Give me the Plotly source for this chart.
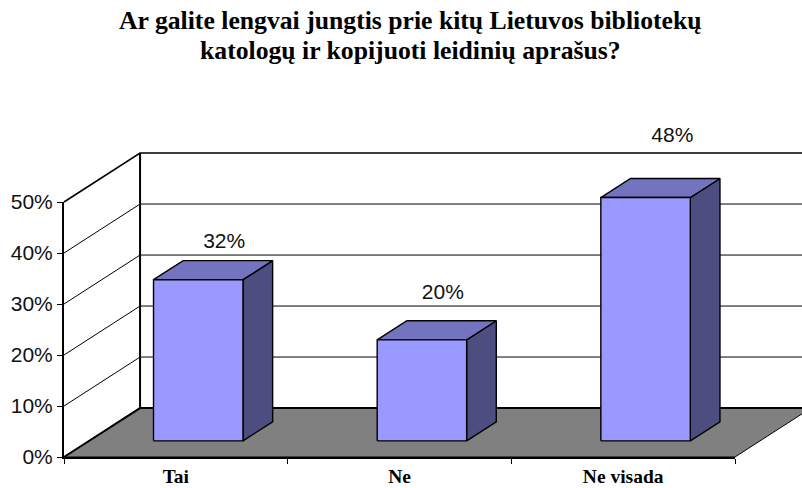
import plotly.graph_objects as go

categories = ["Tai", "Ne", "Ne visada"]
bar_heights = [31.6, 19.8, 47.7]
value_labels = ["32%", "20%", "48%"]
y_ticks = [0, 10, 20, 30, 40, 50]
title_lines = ["Ar galite lengvai jungtis prie kitų Lietuvos bibliotekų",
               "katologų ir kopijuoti leidinių aprašus?"]

W, H = 802, 488
# front plane of the chart in pixels
LEFT, RIGHT, TOP, BOTTOM = 64, 735, 202, 457

# the fake 3D depth, in axis units
DEPTH_X = 0.34
DEPTH_Y = 9.6
BAR_LEFT = 0.288
BAR_WIDTH = 0.4
BAR_NEAR = 0.33
BAR_FAR = 0.72
LABEL_X = [0.716, 1.694, 2.72]
LABEL_Y = [41.95, 31.95, 62.7]

n = len(categories)
ymax = y_ticks[-1]
px_x = (RIGHT - LEFT) / n
px_y = (BOTTOM - TOP) / ymax

fig = go.Figure()


def poly(xs, ys, fill=None, width=1.0, color="black"):
    fig.add_trace(go.Scatter(
        x=xs, y=ys, mode="lines", showlegend=False, hoverinfo="skip",
        line=dict(color=color, width=width),
        fill="toself" if fill else "none", fillcolor=fill,
    ))


# floor
poly([0, n, n + DEPTH_X, DEPTH_X, 0], [0, 0, DEPTH_Y, DEPTH_Y, 0], fill="#808080", width=1)
poly([0, DEPTH_X, n + DEPTH_X], [0, DEPTH_Y, DEPTH_Y], width=2)

# walls and gridlines
for t in y_ticks[1:]:
    w = 1.6 if t == ymax else 1
    poly([0, DEPTH_X, n + DEPTH_X], [t, t + DEPTH_Y, t + DEPTH_Y], width=w)
poly([DEPTH_X, DEPTH_X], [DEPTH_Y, ymax + DEPTH_Y], width=2)

# bars
for i, h in enumerate(bar_heights):
    x0 = i + BAR_LEFT + BAR_NEAR * DEPTH_X
    x1 = x0 + BAR_WIDTH
    y0 = BAR_NEAR * DEPTH_Y
    y1 = y0 + h
    dx = (BAR_FAR - BAR_NEAR) * DEPTH_X
    dy = (BAR_FAR - BAR_NEAR) * DEPTH_Y
    poly([x1, x1 + dx, x1 + dx, x1, x1], [y0, y0 + dy, y1 + dy, y1, y0], fill="#4D4D80", width=1.4)
    poly([x0, x0 + dx, x1 + dx, x1, x0], [y1, y1 + dy, y1 + dy, y1, y1], fill="#7373BF", width=1.4)
    poly([x0, x1, x1, x0, x0], [y0, y0, y1, y1, y0], fill="#9999FF", width=1.4)

fig.add_trace(go.Scatter(
    x=LABEL_X, y=LABEL_Y, text=value_labels, mode="text",
    showlegend=False, hoverinfo="skip",
    textfont=dict(family="Liberation Sans", size=21, color="#111111"),
))

# empty trace so the labelled axes get drawn
fig.add_trace(go.Scatter(x=[None], y=[None], xaxis="x2", yaxis="y2", showlegend=False, hoverinfo="skip"))

for line, ypx in zip(title_lines, [20, 50]):
    fig.add_annotation(
        text="<b>%s</b>" % line, x=(410 - LEFT) / px_x, y=(BOTTOM - ypx) / px_y, xref="x", yref="y",
        showarrow=False, xanchor="center", yanchor="middle",
        font=dict(family="Liberation Serif", size=25.7, color="black"),
    )

fig.update_layout(
    width=W, height=H,
    margin=dict(l=0, r=0, t=0, b=0),
    paper_bgcolor="white", plot_bgcolor="rgba(0,0,0,0)",
    showlegend=False,
    # hidden axes span the whole window, same scale as the labelled ones
    xaxis=dict(range=[-LEFT / px_x, (W - LEFT) / px_x], domain=[0, 1], visible=False),
    yaxis=dict(range=[-(H - BOTTOM) / px_y, BOTTOM / px_y], domain=[0, 1], visible=False),
    xaxis2=dict(
        domain=[LEFT / W, RIGHT / W], anchor="y2", automargin=False,
        range=[0, n], showgrid=False, zeroline=False, showline=True, linecolor="black", linewidth=2,
        tickmode="array", tickvals=[i + 0.5 for i in range(n)],
        ticktext=["<b>%s</b>" % c for c in categories], ticks="", ticklabelstandoff=1,
        tickfont=dict(family="Liberation Serif", size=19.5, color="black"),
        minor=dict(tickmode="array", tickvals=list(range(n + 1)), ticks="outside",
                   ticklen=5, tickcolor="black", tickwidth=1),
    ),
    yaxis2=dict(
        domain=[(H - BOTTOM) / H, (H - TOP) / H], anchor="x2", automargin=False,
        range=[y_ticks[0], ymax], showgrid=False, zeroline=False, showline=True,
        linecolor="black", linewidth=2, tickmode="array", tickvals=y_ticks,
        ticktext=["%d%%" % t for t in y_ticks], ticks="outside", ticklen=5, tickcolor="black",
        tickwidth=1, tickfont=dict(family="Liberation Sans", size=21, color="#111111"),
    ),
)

fig.write_html("out.html", config=dict(displayModeBar=False),
               post_script="document.body.style.margin='0';document.documentElement.style.overflow='hidden';")
